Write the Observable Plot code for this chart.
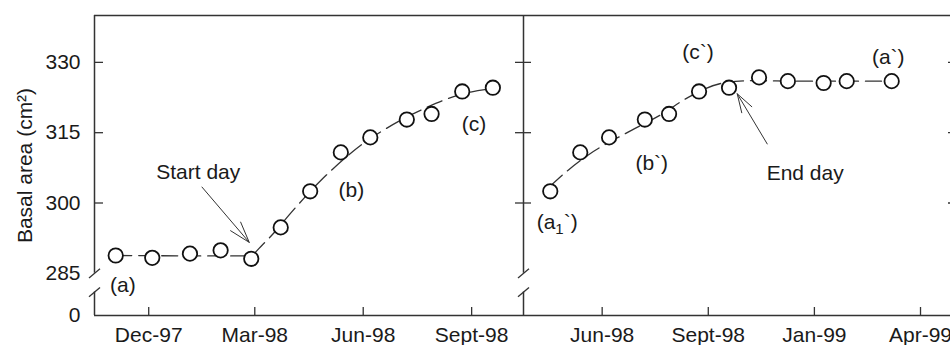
<!DOCTYPE html>
<html>
<head>
<meta charset="utf-8">
<script src="https://cdn.jsdelivr.net/npm/d3@7"></script>
<script src="https://cdn.jsdelivr.net/npm/@observablehq/plot@0.6"></script>
<style>
html, body { margin: 0; padding: 0; background: #fff; overflow: hidden; }
#wrap { position: relative; width: 950px; height: 345px; overflow: hidden; }
#wrap svg { position: absolute; left: 0; top: 0; overflow: visible; }
</style>
</head>
<body>
<div id="wrap"></div>
<script>
// ---------- data (x = days since 1 Dec 1997, y = basal area cm²) ----------
const days = [-28, 3, 35, 61, 87, 112, 137, 163, 188, 219, 240, 266, 292, 318, 343, 374, 394, 433];
const basalArea = [288.8, 288.3, 289.2, 289.9, 288.1, 294.8, 302.5, 310.8, 314.0, 317.8, 319.0, 323.8, 324.6, 326.8, 326.0, 325.6, 326.0, 326.0];

// fitted curve, start-day model (left panel)
const leftFitDays = [-28, 85, 97, 109, 119, 132, 146, 156, 169, 182, 199, 214, 236, 249, 263, 272, 292];
const leftFitVals = [288.8, 288.7, 291.2, 294.4, 297.4, 301.1, 304.8, 307.2, 310.1, 312.7, 315.5, 317.7, 320.4, 321.8, 323.0, 323.6, 324.4];

// fitted curve, end-day model (right panel)
const rightFitDays = [137, 152, 169, 202, 234, 257, 287, 312, 350, 433];
const rightFitVals = [303.6, 306.9, 310.1, 314.8, 319.0, 322.6, 325.6, 326.1, 326.0, 326.0];

// axes
const leftTickDays = [0, 90, 182, 274];
const leftTickLabels = ["Dec-97", "Mar-98", "Jun-98", "Sept-98"];
const rightTickDays = [182, 274, 366, 458];
const rightTickLabels = ["Jun-98", "Sept-98", "Jan-99", "Apr-99"];
const yTickValues = [276, 285, 300, 315, 330];
const yTickLabels = ["0", "285", "300", "315", "330"];
const yTickMarks = [300, 315, 330];
const breakValues = [281, 285];
const yTitle = "Basal area (cm²)";

// annotations
const leftNoteText = ["(a)", "(b)", "(c)", "Start day"];
const leftNoteDays = [-22, 172, 276, 42];
const leftNoteVals = [282.4, 302.7, 316.9, 306.6];
const rightNoteText = ["(a1`)", "(b`)", "(c`)", "(a`)", "End day"];
const rightNoteDays = [143, 225, 265, 430, 358];
const rightNoteVals = [295.9, 308.4, 332.2, 331.1, 306.4];
const startArrow = {x1: 45.2, y1: 303.4, x2: 85.3, y2: 291.6};
const endArrow = {x1: 325.1, y1: 312.6, x2: 299.1, y2: 323.3};

// ---------- build ----------
const leftDomain = [-46, 318];
const rightDomain = [113.8, 489.2];
const yDomain = [276, 340];

const INK = "#1a1a1a";
const LINE = "#333";
const FONT = "'Liberation Sans', Arial, Helvetica, sans-serif";

const pts = days.map((d, i) => ({day: d, v: basalArea[i]}));
const leftPts = pts.filter(p => p.day >= leftDomain[0] && p.day <= 300);
const rightPts = pts.filter(p => p.day >= 130);
const leftFit = leftFitDays.map((d, i) => ({day: d, v: leftFitVals[i]}));
const rightFit = rightFitDays.map((d, i) => ({day: d, v: rightFitVals[i]}));
const leftNotes = leftNoteText.map((t, i) => ({t, day: leftNoteDays[i], v: leftNoteVals[i]}));
const rightNotes = rightNoteText.map((t, i) => ({t, day: rightNoteDays[i], v: rightNoteVals[i]}));
const leftTickMap = new Map(leftTickDays.map((d, i) => [d, leftTickLabels[i]]));
const rightTickMap = new Map(rightTickDays.map((d, i) => [d, rightTickLabels[i]]));
const yTickMap = new Map(yTickValues.map((d, i) => [d, yTickLabels[i]]));

const slash = {
  draw(context, size) {
    const r = Math.sqrt(size / Math.PI);
    context.moveTo(-r, r * 0.85);
    context.lineTo(r, -r * 0.85);
  }
};

const W = 950, H = 345, MT = 15, MB = 30, XL = 94, XM = 523, XR = 956;
const frameH = H - MT - MB;

const left = Plot.plot({
  width: W, height: H,
  marginLeft: XL, marginRight: W - XM, marginTop: MT, marginBottom: MB,
  style: {fontFamily: FONT, fontSize: "21px", color: INK, background: "transparent", maxWidth: "none"},
  x: {domain: leftDomain, ticks: leftTickDays, tickFormat: d => leftTickMap.get(d), tickSize: 0, tickPadding: 12, label: null},
  y: {domain: yDomain, ticks: yTickValues, tickFormat: d => yTickMap.get(d), tickSize: 0, tickPadding: 14, label: null},
  marks: [
    Plot.ruleY([yDomain[1], yDomain[0]], {y: d => d, stroke: LINE, strokeWidth: 1.5}),
    Plot.ruleX([leftDomain[0]], {x: d => d, y1: breakValues[1], y2: yDomain[1], stroke: LINE, strokeWidth: 1.5}),
    Plot.ruleX([leftDomain[0]], {x: d => d, y1: yDomain[0], y2: breakValues[0], stroke: LINE, strokeWidth: 1.5}),
    Plot.dot(breakValues, {x: () => leftDomain[0], y: d => d, symbol: slash, r: 5.5, stroke: LINE, strokeWidth: 1.3}),
    Plot.tickX(leftTickDays, {x: d => d, insetTop: frameH - 8, stroke: LINE, strokeWidth: 1.3}),
    Plot.tickY(yTickMarks, {y: d => d, insetRight: (XM - XL) - 9, stroke: LINE, strokeWidth: 1.3}),
    Plot.tickY(yTickMarks, {y: d => d, insetLeft: (XM - XL) - 8, stroke: LINE, strokeWidth: 1.3}),
    Plot.text([yTitle], {text: d => d, frameAnchor: "left", textAnchor: "middle", rotate: -90, dx: -69, fill: INK}),
    Plot.line(leftFit, {x: "day", y: "v", curve: "monotone-x", stroke: LINE, strokeWidth: 1.3, strokeDasharray: "16,7"}),
    Plot.dot(leftPts, {x: "day", y: "v", r: 7.2, fill: "white", stroke: "#111", strokeWidth: 1.8}),
    Plot.arrow([startArrow], {x1: "x1", y1: "y1", x2: "x2", y2: "y2", stroke: LINE, strokeWidth: 1, headAngle: 35, headLength: 33}),
    Plot.text(leftNotes, {x: "day", y: "v", text: "t", fill: INK})
  ]
});

const right = Plot.plot({
  width: XR, height: H,
  marginLeft: XM, marginRight: 0, marginTop: MT, marginBottom: MB,
  style: {fontFamily: FONT, fontSize: "21px", color: INK, background: "transparent", maxWidth: "none"},
  x: {domain: rightDomain, ticks: rightTickDays, tickFormat: d => rightTickMap.get(d), tickSize: 0, tickPadding: 12, label: null},
  y: {domain: yDomain, axis: null},
  marks: [
    Plot.ruleY([yDomain[1], yDomain[0]], {y: d => d, stroke: LINE, strokeWidth: 1.5}),
    Plot.ruleX([rightDomain[0]], {x: d => d, y1: breakValues[1], y2: yDomain[1], stroke: LINE, strokeWidth: 1.5}),
    Plot.ruleX([rightDomain[0]], {x: d => d, y1: yDomain[0], y2: breakValues[0], stroke: LINE, strokeWidth: 1.5}),
    Plot.dot(breakValues, {x: () => rightDomain[0], y: d => d, symbol: slash, r: 5.5, stroke: LINE, strokeWidth: 1.3}),
    Plot.tickX(rightTickDays, {x: d => d, insetTop: frameH - 8, stroke: LINE, strokeWidth: 1.3}),
    Plot.tickY(yTickMarks, {y: d => d, insetRight: (XR - XM) - 8, stroke: LINE, strokeWidth: 1.3}),
    Plot.tickY(yTickMarks, {y: d => d, insetLeft: (XR - XM) - 8, stroke: LINE, strokeWidth: 1.3}),
    Plot.line(rightFit, {x: "day", y: "v", curve: "monotone-x", stroke: LINE, strokeWidth: 1.3, strokeDasharray: "16,7"}),
    Plot.dot(rightPts, {x: "day", y: "v", r: 7.2, fill: "white", stroke: "#111", strokeWidth: 1.8}),
    Plot.arrow([endArrow], {x1: "x1", y1: "y1", x2: "x2", y2: "y2", stroke: LINE, strokeWidth: 1, headAngle: 35, headLength: 33}),
    Plot.text(rightNotes, {x: "day", y: "v", text: "t", fill: INK})
  ]
});

const wrap = document.getElementById("wrap");
wrap.append(left, right);

// subscript in "(a1`)"
const NS = "http://www.w3.org/2000/svg";
right.querySelectorAll("text").forEach(t => {
  if (t.textContent === "(a1`)") {
    t.textContent = "";
    t.append("(a");
    const s = document.createElementNS(NS, "tspan");
    s.setAttribute("font-size", "15");
    s.setAttribute("dy", "5");
    s.textContent = "1";
    const r = document.createElementNS(NS, "tspan");
    r.setAttribute("dy", "-5");
    r.textContent = "`)";
    t.append(s, r);
  }
});
</script>
</body>
</html>
